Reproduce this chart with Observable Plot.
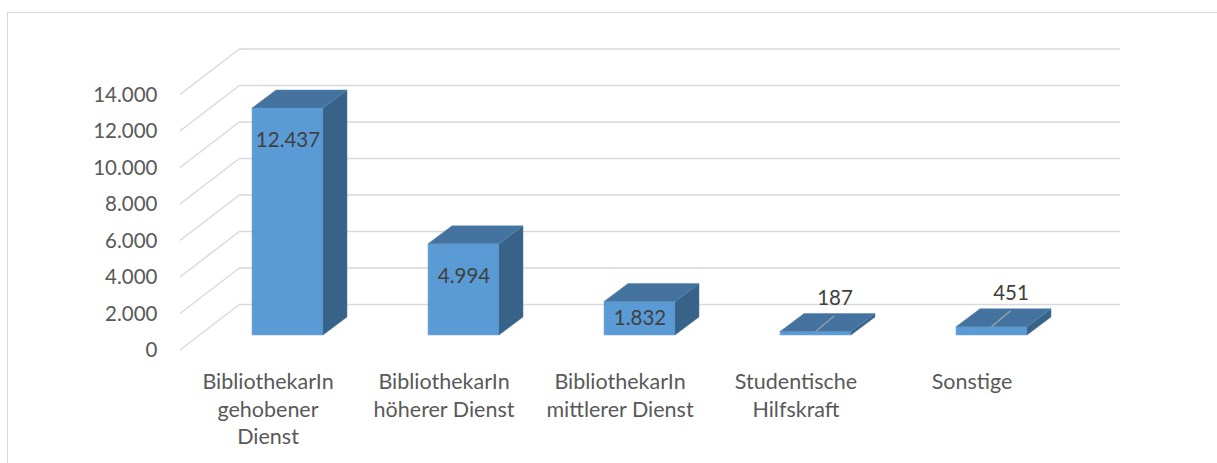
<!DOCTYPE html>
<html>
<head>
<meta charset="utf-8">
<script src="https://cdn.jsdelivr.net/npm/d3@7"></script>
<script src="https://cdn.jsdelivr.net/npm/@observablehq/plot@0.6"></script>
<style>
  body { margin: 0; background: #ffffff; }
  #wrap { position: relative; width: 1217px; height: 463px; overflow: hidden; }
  #border { position: absolute; left: 7px; top: 12px; width: 1240px; height: 490px; border: 1px solid #d9d9d9; box-sizing: border-box; }
  #chart { position: absolute; left: 0; top: 0; }
</style>
</head>
<body>
<div id="wrap"><div id="border"></div><div id="chart"></div></div>
<script>
// ---- data ----
const categories = [
  "BibliothekarIn gehobener Dienst",
  "BibliothekarIn höherer Dienst",
  "BibliothekarIn mittlerer Dienst",
  "Studentische Hilfskraft",
  "Sonstige"
];
const tickLabels = [
  "BibliothekarIn\ngehobener\nDienst",
  "BibliothekarIn\nhöherer Dienst",
  "BibliothekarIn\nmittlerer Dienst",
  "Studentische\nHilfskraft",
  "Sonstige"
];
const values = [12437, 4994, 1832, 187, 451];
const yTicks = [0, 2000, 4000, 6000, 8000, 10000, 12000, 14000];

// ---- styling / geometry ----
const FRONT_FILL = "#5b9bd5";
const TOP_FILL = "#44739f";
const SIDE_FILL = "#386389";
const GRID = "#d9d9d9";
const BAR_DX = 24, BAR_DY = -18;     // bar depth
const BACK_DX = 40, BACK_DY = -31;   // bar plane -> back wall
const FRONT_DX = -20, FRONT_DY = 15; // bar plane -> front edge

const de = d3.formatLocale({decimal: ",", thousands: ".", grouping: [3], currency: ["", " €"]});
const fmt = de.format(",d");

const rows = categories.map((c, i) => ({cat: c, value: values[i], tick: tickLabels[i]}));

function bw(x) { return typeof x.bandwidth === "function" ? x.bandwidth() : x.bandwidth; }

// diagonal floor/side grid lines from the front edge to the back wall
function diagonals(index, scales, vals, dims) {
  const y = scales.y;
  const xl = dims.marginLeft;
  const g = d3.create("svg:g");
  yTicks.forEach(t => {
    g.append("line")
      .attr("x1", xl + FRONT_DX).attr("y1", y(t) + FRONT_DY)
      .attr("x2", xl + BACK_DX).attr("y2", y(t) + BACK_DY)
      .attr("stroke", GRID).attr("stroke-width", 1.4);
  });
  return g.node();
}

// top and side faces of the 3D columns
function faces(index, scales) {
  const x = scales.x, y = scales.y, w = bw(x);
  const g = d3.create("svg:g");
  rows.forEach(d => {
    const x0 = x(d.cat), x1 = x0 + w, yt = y(d.value), yb = y(0);
    g.append("path")
      .attr("d", `M${x1},${yt}L${x1 + BAR_DX},${yt + BAR_DY}L${x1 + BAR_DX},${yb + BAR_DY}L${x1},${yb}Z`)
      .attr("fill", SIDE_FILL).attr("stroke", "#4a79a6").attr("stroke-width", 0.5);
    g.append("path")
      .attr("d", `M${x0},${yt}L${x1},${yt}L${x1 + BAR_DX},${yt + BAR_DY}L${x0 + BAR_DX},${yt + BAR_DY}Z`)
      .attr("fill", TOP_FILL).attr("stroke", "#5283b0").attr("stroke-width", 0.5);
  });
  return g.node();
}

// leader lines for the small values labelled above the columns
function leaders(index, scales) {
  const x = scales.x, y = scales.y, w = bw(x);
  const g = d3.create("svg:g");
  rows.filter(d => d.value < 1000).forEach(d => {
    const cx = x(d.cat) + w / 2, yt = y(d.value);
    g.append("line")
      .attr("x1", cx).attr("y1", yt)
      .attr("x2", cx + 19).attr("y2", yt - 16)
      .attr("stroke", "#a6a6a6").attr("stroke-width", 1.2);
  });
  return g.node();
}

const plot = Plot.plot({
  width: 1217,
  height: 463,
  marginLeft: 200,
  marginRight: 137,
  marginTop: 79.5,
  marginBottom: 128,
  style: {fontFamily: "Lato, 'Open Sans', sans-serif", fontSize: "20.5px", background: "transparent", overflow: "visible"},
  x: {domain: categories, paddingInner: 0.595, paddingOuter: 0.2975},
  y: {domain: [0, 14000]},
  marks: [
    Plot.ruleY(yTicks, {dx: BACK_DX, dy: BACK_DY, stroke: GRID, strokeWidth: 1.4}),
    diagonals,
    Plot.barY(rows, {x: "cat", y: "value", fill: FRONT_FILL, stroke: "#7aaedd", strokeWidth: 0.6}),
    faces,
    leaders,
    Plot.text(rows.filter(d => d.value >= 4000), {x: "cat", y: "value", text: d => fmt(d.value), dy: 32, fill: "#404040", fontSize: 20.5}),
    Plot.text(rows.filter(d => d.value >= 1000 && d.value < 4000), {x: "cat", y: d => d.value / 2, text: d => fmt(d.value), fill: "#404040", fontSize: 20.5}),
    Plot.text(rows.filter(d => d.value < 1000), {x: "cat", y: "value", text: d => fmt(d.value), dx: 19, dy: -34, fill: "#404040", fontSize: 20.5}),
    Plot.axisY(yTicks, {tickSize: 0, tickPadding: 23, dx: FRONT_DX, dy: FRONT_DY, tickFormat: fmt, label: null, fill: "#595959", fontSize: 20.5}),
    Plot.axisX({tickSize: 0, tickPadding: 34, dx: FRONT_DX, tickFormat: c => tickLabels[categories.indexOf(c)], label: null, fill: "#595959", fontSize: 21.5, lineHeight: 1.28})
  ]
});
document.getElementById("chart").appendChild(plot);
</script>
</body>
</html>
